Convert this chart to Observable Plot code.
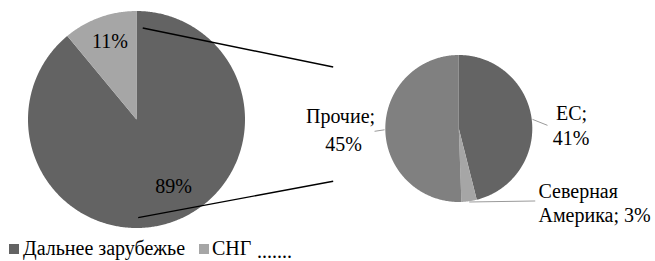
<!DOCTYPE html>
<html><head><meta charset="utf-8">
<script src="https://cdn.jsdelivr.net/npm/d3@7"></script>
<script src="https://cdn.jsdelivr.net/npm/@observablehq/plot@0.6"></script>
<style>
body{margin:0;background:#fff;}
#chart{position:relative;width:655px;height:261px;overflow:hidden;font-family:"Liberation Serif","DejaVu Serif",serif;color:#000}
#legend{position:absolute;left:0;top:230px;width:655px;height:31px;font-size:20px;font-family:"Liberation Serif","DejaVu Serif",serif}
#legend .sw{position:absolute;width:10px;height:10px}
#legend .tx{position:absolute;white-space:nowrap;line-height:1}
</style></head><body><div id="chart"></div>
<script>
// ---- data ----
const mainCategories = ["Дальнее зарубежье", "СНГ"];
const mainValues = [89, 11];
const subCategories = ["ЕС", "Северная Америка", "Прочие"];
const subValues = [41, 3, 45];
// ---- styles ----
const mainColors = ["#636363", "#a6a6a6"];
const subColors = ["#646464", "#a6a6a6", "#808080"];
const serif = "'Liberation Serif','DejaVu Serif',serif";
// ---- layout ----
const W = 655, H = 230;
const bigPie = {cx: 136, cy: 119, r: 108.5};
const smallPie = {cx: 458.3, cy: 128, r: 73.5};

function slices(vals, colors, pie, key) {
  const arcs = d3.pie().sort(null).startAngle(0).endAngle(2 * Math.PI)(vals);
  const pts = [];
  arcs.forEach((a, i) => {
    const id = key + i;
    pts.push({id, fill: colors[i], x: pie.cx, y: pie.cy});
    const n = Math.max(2, Math.ceil((a.endAngle - a.startAngle) / 0.01));
    for (let k = 0; k <= n; k++) {
      const t = a.startAngle + (a.endAngle - a.startAngle) * k / n;
      pts.push({id, fill: colors[i], x: pie.cx + pie.r * Math.sin(t), y: pie.cy - pie.r * Math.cos(t)});
    }
    pts.push({id, fill: colors[i], x: pie.cx, y: pie.cy});
  });
  return {arcs, pts};
}
const big = slices(mainValues, mainColors, bigPie, "m");
const small = slices(subValues, subColors, smallPie, "s");

function onPie(pie, angle, rf) {
  return [pie.cx + pie.r * rf * Math.sin(angle), pie.cy - pie.r * rf * Math.cos(angle)];
}
const mid = a => (a.startAngle + a.endAngle) / 2;

// connectors from the broken-out slice to the secondary pie
const c1 = onPie(bigPie, 0.068, 0.845);
const c2 = onPie(bigPie, Math.PI - 0.017, 0.905);
const connectors = [
  {x1: c1[0], y1: c1[1], x2: smallPie.cx - 125.6, y2: smallPie.cy - 61.5},
  {x1: c2[0], y1: c2[1], x2: smallPie.cx - 125.6, y2: smallPie.cy + 52.7}
];

// leader lines on small pie
const leaderEnds = [[15, 6], [66, -1], [-10, 1.5]];
const leaders = small.arcs.map((a, i) => {
  const p = onPie(smallPie, mid(a), 1.01);
  return {x1: p[0], y1: p[1], x2: p[0] + leaderEnds[i][0], y2: p[1] + leaderEnds[i][1]};
});

// labels (baseline positions)
const centeredLabels = [
  {t: `${mainValues[1]}%`, x: 109.5, y: 47},
  {t: `${mainValues[0]}%`, x: 173, y: 192.5},
  {t: `${subCategories[0]};`, x: 571, y: 119},
  {t: `${subValues[0]}%`, x: 570.5, y: 144},
  {t: `${subCategories[2]};`, x: 340, y: 122.8},
  {t: `${subValues[2]}%`, x: 343, y: 150.3}
];
const [naLine1, naLine2] = subCategories[1].split(" ");
const startLabels = [
  {t: naLine1, x: 538, y: 197.5},
  {t: `${naLine2}; ${subValues[1]}%`, x: 538, y: 221.3}
];

const plot = Plot.plot({
  width: W, height: H,
  margin: 0,
  x: {domain: [0, W], range: [0, W], axis: null},
  y: {domain: [0, H], range: [0, H], axis: null},
  color: {type: "identity"},
  style: {fontFamily: serif, background: "#fff", overflow: "visible"},
  marks: [
    Plot.line(big.pts, {x: "x", y: "y", z: "id", fill: "fill", stroke: "none", curve: "linear"}),
    Plot.line(small.pts, {x: "x", y: "y", z: "id", fill: "fill", stroke: "none", curve: "linear"}),
    Plot.link(connectors, {x1: "x1", y1: "y1", x2: "x2", y2: "y2", stroke: "#000", strokeWidth: 1.4}),
    Plot.link(leaders, {x1: "x1", y1: "y1", x2: "x2", y2: "y2", stroke: "#9a9a9a", strokeWidth: 1}),
    Plot.text(centeredLabels, {x: "x", y: "y", text: "t", textAnchor: "middle", lineAnchor: "bottom", fontSize: 20, fontFamily: serif, fill: "#000"}),
    Plot.text(startLabels, {x: "x", y: "y", text: "t", textAnchor: "start", lineAnchor: "bottom", fontSize: 20, fontFamily: serif, fill: "#000"})
  ]
});
const chart = document.getElementById("chart");
chart.appendChild(plot);

// legend
const legend = document.createElement("div");
legend.id = "legend";
const items = [
  {sw: [9, 14], tx: [23, 8]},
  {sw: [199, 14], tx: [212, 8]}
];
mainCategories.forEach((c, i) => {
  const s = document.createElement("div");
  s.className = "sw"; s.style.left = items[i].sw[0] + "px"; s.style.top = items[i].sw[1] + "px";
  s.style.background = mainColors[i];
  const t = document.createElement("div");
  t.className = "tx"; t.style.left = items[i].tx[0] + "px"; t.style.top = items[i].tx[1] + "px";
  t.textContent = c;
  legend.appendChild(s); legend.appendChild(t);
});
const dots = document.createElement("div");
dots.className = "tx"; dots.style.left = "257px"; dots.style.top = "11px";
dots.textContent = ".......";
legend.appendChild(dots);
chart.appendChild(legend);
</script></body></html>
